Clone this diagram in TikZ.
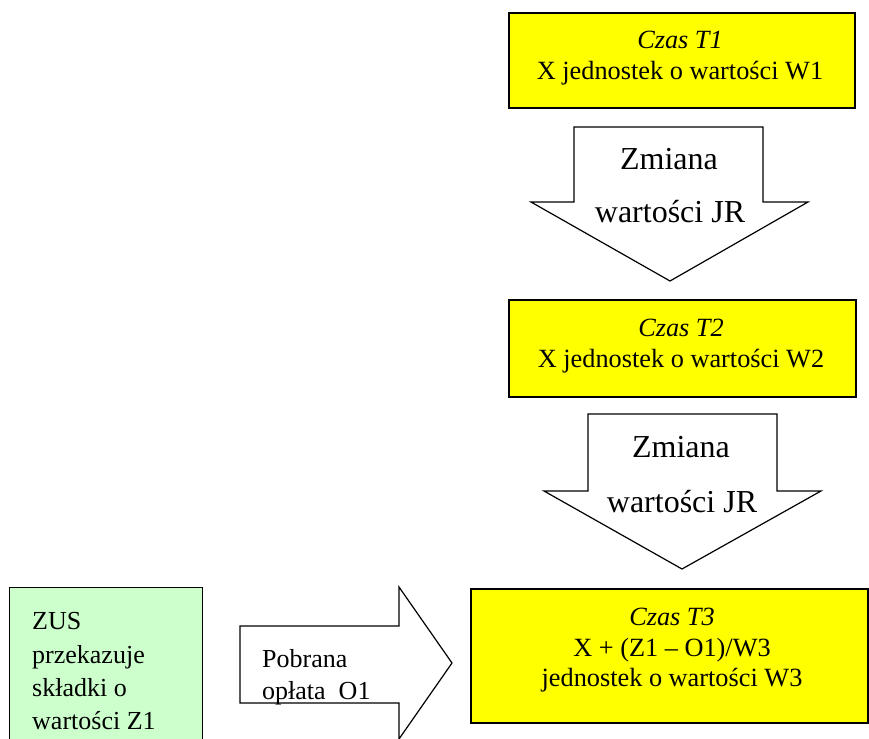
\documentclass[tikz,border=0pt]{standalone}
\usepackage{fontspec}
\setmainfont{Liberation Serif}
\definecolor{boxyellow}{HTML}{FFFF00}
\definecolor{boxgreen}{HTML}{CCFFCC}
\begin{document}
\begin{tikzpicture}[x=1pt,y=-1pt,
  ybox/.style={draw=black, line width=1.6pt, fill=boxyellow, inner sep=0pt, anchor=north west},
  gbox/.style={draw=black, line width=1.2pt, fill=boxgreen, inner sep=0pt, anchor=north west},
  blockarrow/.style={draw=black, line width=1.2pt, fill=white, line join=miter},
  txt/.style={inner sep=0pt, anchor=base, font=\fontsize{26.3}{30}\selectfont},
  ltxt/.style={inner sep=0pt, anchor=base west, font=\fontsize{26}{30}\selectfont},
  bigtxt/.style={inner sep=0pt, anchor=base, font=\fontsize{32}{36}\selectfont}]
\useasboundingbox (0,0) rectangle (869,738);
\clip (0,0) rectangle (869,738);
% boxes
\node[ybox, minimum width=346pt, minimum height=95pt] (b1) at (508,12) {};
\node[ybox, minimum width=347pt, minimum height=97pt] (b2) at (508,299) {};
\node[ybox, minimum width=397pt, minimum height=134pt] (b3) at (470,588) {};
\node[gbox, minimum width=193pt, minimum height=160pt] (g) at (9,587) {};
% block arrows
\draw[blockarrow] (574,127) -- (763,127) -- (763,202) -- (808,202) -- (670,281) -- (531,202) -- (574,202) -- cycle;
\draw[blockarrow] (588,414) -- (777,414) -- (777,491) -- (821,491) -- (682,569) -- (544,491) -- (588,491) -- cycle;
\draw[blockarrow] (240,626) -- (399,626) -- (399,587) -- (452,663) -- (399,739) -- (399,703) -- (240,703) -- cycle;
% texts
\node[txt] (t1a) at (680,49) {\itshape Czas T1};
\node[txt] (t1b) at (680,80) {X jednostek o wartości W1};
\node[txt] (t2a) at (681,336) {\itshape Czas T2};
\node[txt] (t2b) at (681,367) {X jednostek o wartości W2};
\node[txt] (t3a) at (672,625) {\itshape Czas T3};
\node[txt] (t3b) at (672,656) {X + (Z1 – O1)/W3};
\node[txt] (t3c) at (672,686) {jednostek o wartości W3};
\node[bigtxt] (a1a) at (669,169) {Zmiana};
\node[bigtxt] (a1b) at (670,222) {wartości JR};
\node[bigtxt] (a2a) at (681,457) {Zmiana};
\node[bigtxt] (a2b) at (682,512) {wartości JR};
\node[ltxt] (ga) at (32,629) {ZUS};
\node[ltxt] (gb) at (32,663) {przekazuje};
\node[ltxt] (gc) at (32,696) {składki o};
\node[ltxt] (gd) at (32,729) {wartości Z1};
\node[ltxt] (pa) at (262,667) {Pobrana};
\node[ltxt] (pb) at (262,699) {opłata\ \ O1};
\end{tikzpicture}
\end{document}
